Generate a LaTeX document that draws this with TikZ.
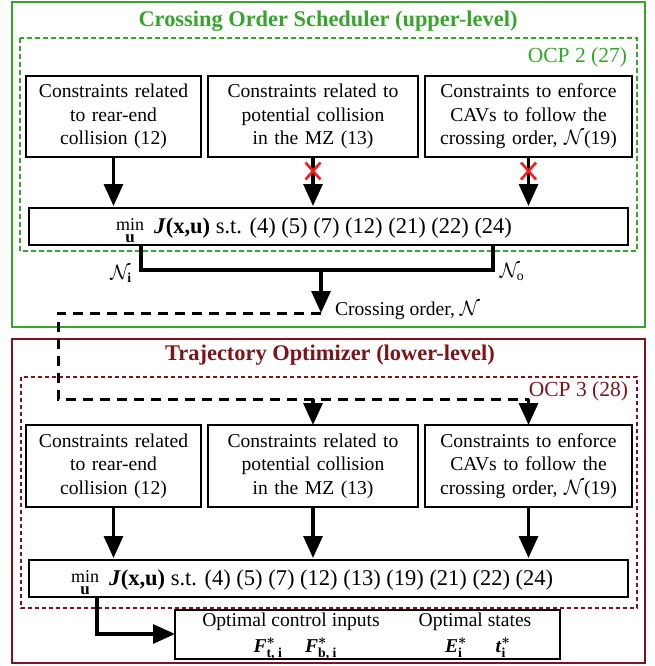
\documentclass[tikz,border=0pt]{standalone}
\usepackage{amsmath}
\usepackage{fontspec}
\setmainfont{Liberation Serif}
\usetikzlibrary{arrows.meta}
\definecolor{cgreen}{RGB}{55,165,45}
\definecolor{cred}{RGB}{125,20,25}
\definecolor{xred}{RGB}{245,30,30}
\begin{document}
\begin{tikzpicture}[x=1pt,y=-1pt,
  every node/.style={inner sep=0pt, outer sep=0pt},
  cbox/.style={draw=black, line width=1.5pt, align=center, font=\fontsize{19.6}{23.5}\selectfont, minimum height=81pt},
  mbox/.style={draw=black, line width=1.8pt, minimum width=599pt, minimum height=37pt},
  arr/.style={line width=3.2pt, -{Triangle[length=22pt,width=19pt]}},
  wire/.style={line width=3.2pt},
  dwire/.style={line width=3pt, dash pattern=on 10pt off 7pt},
  xmark/.style={draw=xred, line width=2.6pt},
  ttl/.style={font=\fontsize{22.4}{26}\selectfont\bfseries},
  ocp/.style={font=\fontsize{21.5}{26}\selectfont, anchor=east},
  lbl/.style={font=\fontsize{19.6}{23.5}\selectfont},
  mtext/.style={font=\fontsize{22.5}{27}\selectfont, anchor=base west},
  mintxt/.style={font=\fontsize{18}{18}\selectfont, anchor=base},
  utxt/.style={font=\fontsize{17}{17}\selectfont\bfseries, anchor=base},
]
\useasboundingbox (0,0) rectangle (655,666);

% frames
\draw[cgreen, line width=2pt] (12,2) rectangle (645,327);
\draw[cgreen, line width=1.5pt, dash pattern=on 5pt off 3pt] (20,38) rectangle (637,251);
\draw[cred, line width=2.2pt] (12,339) rectangle (645,663);
\draw[cred, line width=1.3pt, dash pattern=on 4pt off 3pt] (21,377) rectangle (637,608);

% titles
\node[ttl, text=cgreen] (t1) at (328,21) {Crossing Order Scheduler (upper-level)};
\node[ttl, text=cred] (t2) at (330,355) {Trajectory Optimizer (lower-level)};
\node[ocp, text=cgreen] (o2) at (627,57) {OCP 2 (27)};
\node[ocp, text=cred] (o3) at (628,391) {OCP 3 (28)};

% upper boxes
\node[cbox, minimum width=175pt, text width=170pt] (u1) at (113.5,116.5) {Constraints related\\to rear-end\\collision (12)};
\node[cbox, minimum width=210pt, text width=205pt] (u2) at (313,116.5) {Constraints related to\\potential collision\\in the MZ (13)};
\node[cbox, minimum width=207pt, text width=202pt] (u3) at (528.5,116.5) {Constraints to enforce\\CAVs to follow the\\crossing order, $\mathcal{N}$(19)};

\node[mbox] (m1) at (328.5,226.5) {};
\node[mintxt] (m1min) at (130,230) {min};
\node[utxt] (m1u) at (130,242.5) {u};
\node[mtext] (m1t) at (154,233) {\textbf{\textit{J}(x,u)} s.t. (4) (5) (7) (12) (21) (22) (24)};

\draw[arr, shorten >=2pt] (u1.south) -- (u1.south |- m1.north);
\draw[arr, shorten >=2pt] (u2.south) -- (u2.south |- m1.north);
\draw[arr, shorten >=2pt] (u3.south) -- (u3.south |- m1.north);
\coordinate (x2) at (313,171);
\coordinate (x3) at (528.5,171);
\draw[xmark] ([shift={(-7.5,-8.5)}]x2) -- ([shift={(7.5,8.5)}]x2);
\draw[xmark] ([shift={(7.5,-8.5)}]x2) -- ([shift={(-7.5,8.5)}]x2);
\draw[xmark] ([shift={(-7.5,-8.5)}]x3) -- ([shift={(7.5,8.5)}]x3);
\draw[xmark] ([shift={(7.5,-8.5)}]x3) -- ([shift={(-7.5,8.5)}]x3);

% crossing order connector
\coordinate (niA) at (141,270);
\coordinate (noA) at (493,270);
\draw[wire] (m1.south -| niA) -- (niA) -- (noA) -- (m1.south -| noA);
\node[lbl] (nil) at (121,274) {$\mathcal{N}_{\mathbf{i}}$};
\node[lbl] (nol) at (512,272) {$\mathcal{N}_{\mathrm{o}}$};
\coordinate (co) at (321,270);
\coordinate (coEnd) at (321,313);
\draw[arr] (co) -- (coEnd);
\node[lbl, anchor=west] (colbl) at (335,311) {Crossing order, $\mathcal{N}$};

% lower boxes
\node[cbox, minimum width=175pt, text width=170pt, minimum height=82pt] (l1) at (113.5,466) {Constraints related\\to rear-end\\collision (12)};
\node[cbox, minimum width=210pt, text width=205pt, minimum height=82pt] (l2) at (313,466) {Constraints related to\\potential collision\\in the MZ (13)};
\node[cbox, minimum width=207pt, text width=202pt, minimum height=82pt] (l3) at (528.5,466) {Constraints to enforce\\CAVs to follow the\\crossing order, $\mathcal{N}$(19)};

% dashed feed
\coordinate (d1) at (58,313);
\coordinate (d2) at (58,399);
\coordinate (d3) at (528.5,399);
\draw[dwire] (coEnd) -- (d1) -- (d2) -- (d3);
\draw[arr] (l2.north |- d2) -- (l2.north);
\draw[arr] (d3) -- (l3.north);

\node[mbox] (m2) at (328.5,578.5) {};
\node[mintxt] (m2min) at (85,582) {min};
\node[utxt] (m2u) at (85,594.5) {u};
\node[mtext] (m2t) at (109,585) {\textbf{\textit{J}(x,u)} s.t. (4) (5) (7) (12) (13) (19) (21) (22) (24)};

\draw[arr, shorten >=2pt] (l1.south) -- (l1.south |- m2.north);
\draw[arr, shorten >=2pt] (l2.south) -- (l2.south |- m2.north);
\draw[arr, shorten >=2pt] (l3.south) -- (l3.south |- m2.north);

% output box
\node[draw=black, line width=1.8pt, minimum width=385pt, minimum height=49pt] (ob) at (367.5,634.5) {};
\coordinate (oc) at (97,634);
\draw[arr] (m2.south -| oc) -- (oc) -- (ob.west |- oc);
\node[lbl, anchor=base] (oc1) at (291,626) {Optimal control inputs};
\node[lbl, anchor=base] (os1) at (475,626) {Optimal states};
\node[lbl, anchor=base] (ft) at (268,652.5) {$\text{\textbf{\textit{F}}}^{\boldsymbol{*}}_{\text{\bfseries t, i}}$};
\node[lbl, anchor=base] (fb) at (321,652.5) {$\text{\textbf{\textit{F}}}^{\boldsymbol{*}}_{\text{\bfseries b, i}}$};
\node[lbl, anchor=base] (ei) at (456,652.5) {$\text{\textbf{\textit{E}}}^{\boldsymbol{*}}_{\text{\bfseries i}}$};
\node[lbl, anchor=base] (ti) at (503,652.5) {$\text{\textbf{\textit{t}}}^{\boldsymbol{*}}_{\text{\bfseries i}}$};
\end{tikzpicture}
\end{document}
